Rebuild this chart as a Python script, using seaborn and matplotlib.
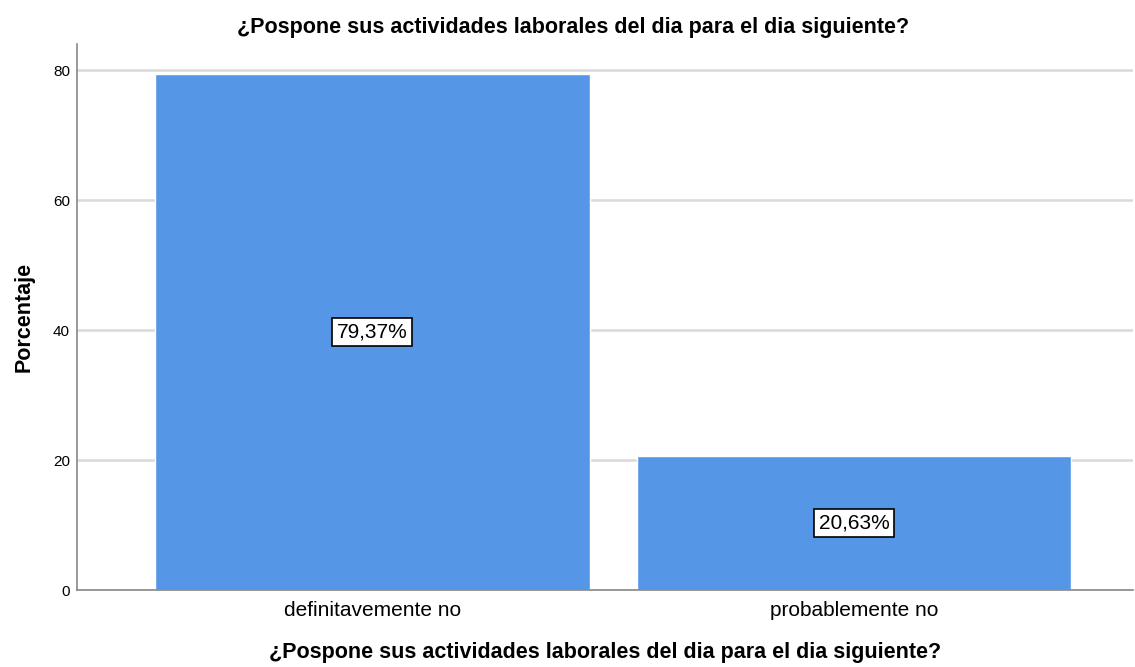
import pandas as pd
import matplotlib.pyplot as plt
import seaborn as sns

categories = ["definitavemente no", "probablemente no"]
percentages = [79.37, 20.63]
pct_labels = ["79,37%", "20,63%"]
y_ticks = [0, 20, 40, 60, 80]
title = "¿Pospone sus actividades laborales del dia para el dia siguiente?"

df = pd.DataFrame({"categoria": categories, "porcentaje": percentages})

sns.set_style("white")
plt.rcParams['font.family'] = ['Liberation Sans', 'DejaVu Sans']
plt.rcParams['text.color'] = 'black'
plt.rcParams['axes.labelcolor'] = 'black'
plt.rcParams['xtick.color'] = 'black'
plt.rcParams['ytick.color'] = 'black'

fig = plt.figure(figsize=(11.35, 6.67), dpi=100)
ax = fig.add_axes([0.0678, 0.1154, 0.930, 0.8186])

sns.barplot(data=df, x="categoria", y="porcentaje", color="#5596e6",
            width=0.9025, saturation=1, ax=ax, zorder=2)

ax.set_ylim(0, 84)
ax.set_xlim(-0.613, 1.578)
ax.set_yticks(y_ticks)
ax.yaxis.grid(True, color="#d9d9d9", linewidth=1.8, zorder=0)
ax.set_axisbelow(True)
ax.tick_params(axis="y", labelsize=11, length=0, pad=5)
ax.tick_params(axis="x", labelsize=15, length=0, pad=8)

for side in ["top", "right"]:
    ax.spines[side].set_visible(False)
for side in ["left", "bottom"]:
    ax.spines[side].set_color("#888888")
    ax.spines[side].set_linewidth(1.2)

for i, (val, lab) in enumerate(zip(percentages, pct_labels)):
    ax.text(i, val / 2, lab, ha="center", va="center", fontsize=15,
            bbox=dict(boxstyle="square,pad=0.22", facecolor="white",
                      edgecolor="black", linewidth=1.2), zorder=3)

fig.text(0.505, 1 - 28 / 667, title, ha="center", va="center",
         fontsize=15.5, fontweight="bold")
ax.set_xlabel(title, fontsize=15.5, fontweight="bold", labelpad=16)
ax.set_ylabel("Porcentaje", fontsize=15.5, fontweight="bold", labelpad=13)

fig.savefig("out.png", dpi=100)
